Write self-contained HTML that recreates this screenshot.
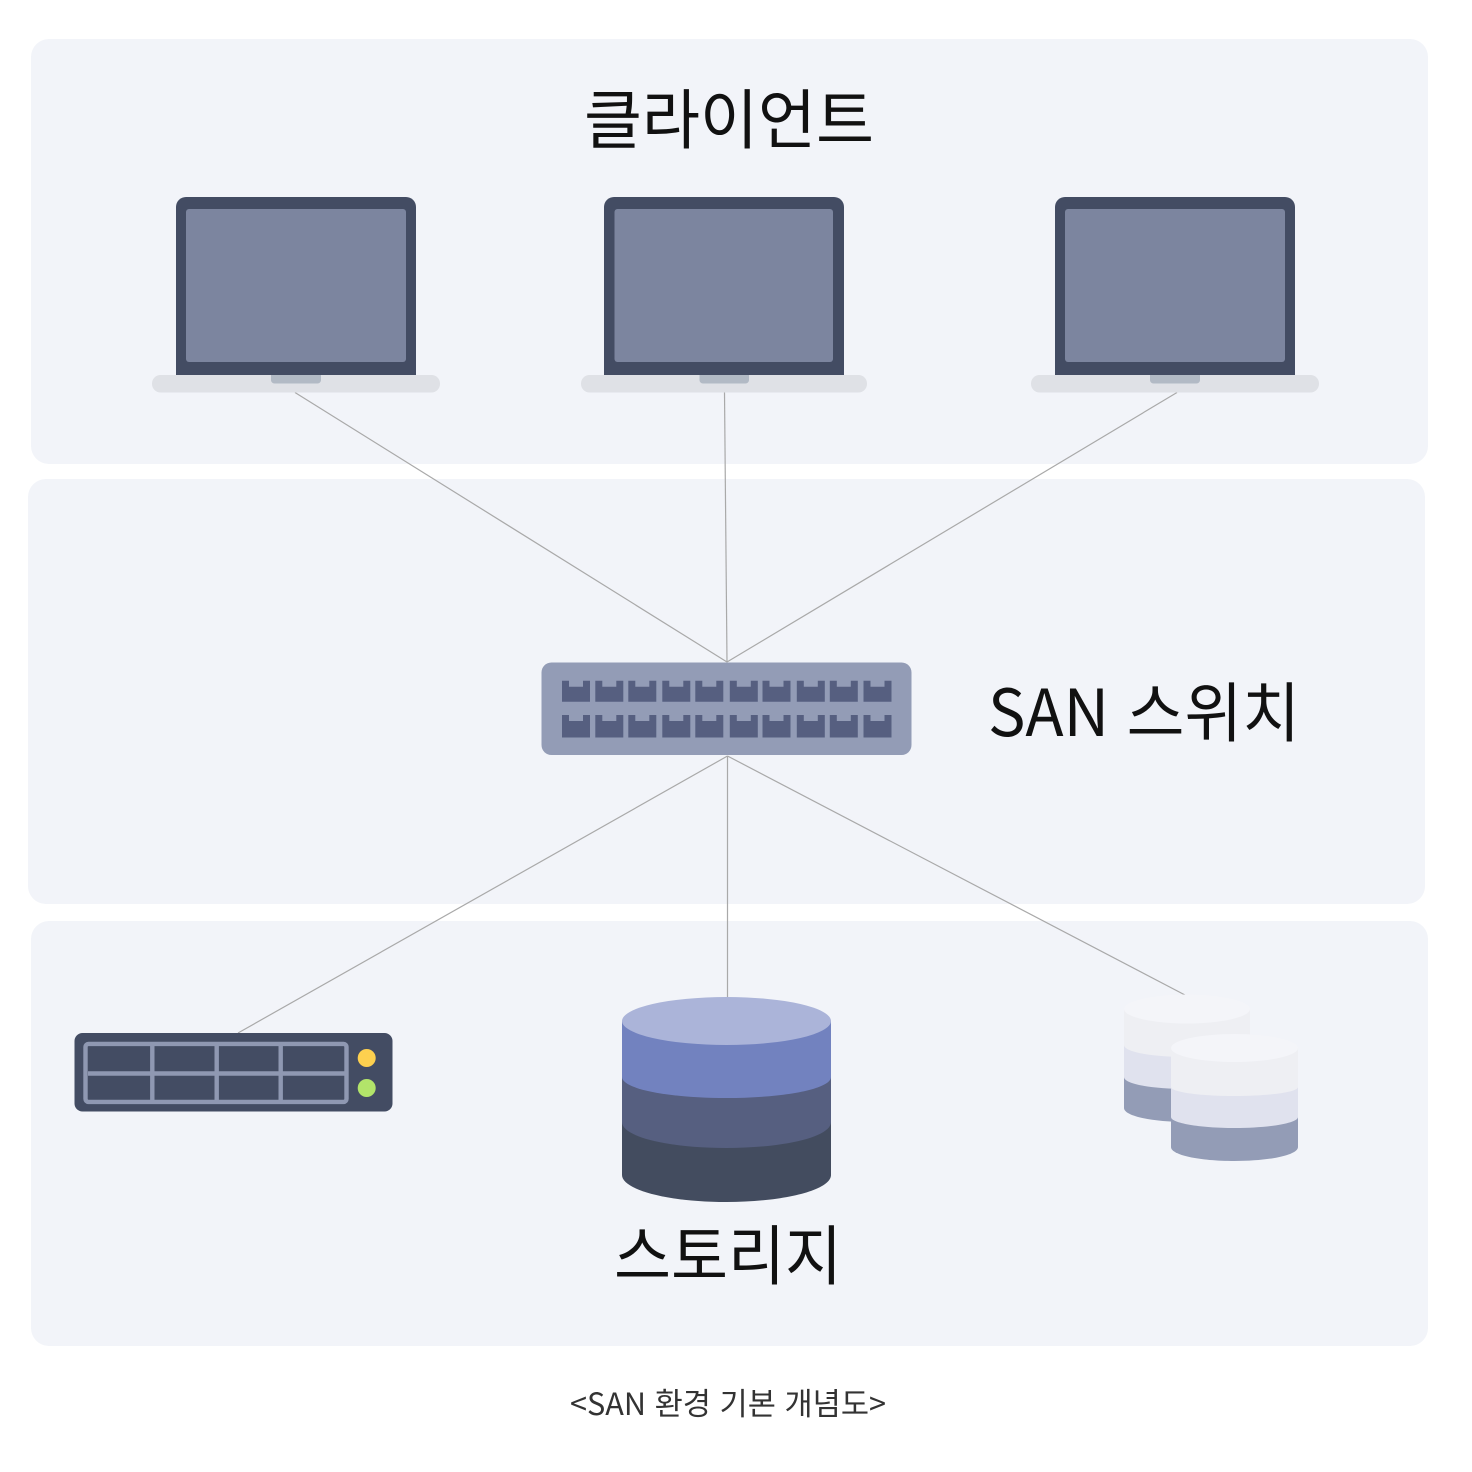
<!DOCTYPE html>
<html lang="ko">
<head>
<meta charset="utf-8">
<title>SAN 환경 기본 개념도</title>
<style>
html,body{margin:0;padding:0;background:#fff;width:1472px;height:1472px;overflow:hidden}
svg{display:block}
text{font-family:"Noto Sans CJK KR","NanumGothic","Liberation Sans",sans-serif;font-weight:400}
</style>
</head>
<body>
<svg width="1472" height="1472" viewBox="0 0 1472 1472" xmlns="http://www.w3.org/2000/svg">
<defs>
  <g id="base">
    <path d="M176 375V207a10 10 0 0 1 10-10H406a10 10 0 0 1 10 10V375Z" fill="#434c63"/>
    <rect x="152" y="375" width="288" height="17.5" rx="8.500" fill="#dfe1e6"/>
    <path d="M271 375H321V380a3.500 3.500 0 0 1-3.500 3.500H274.500a3.500 3.500 0 0 1-3.500-3.500Z" fill="#b2bac5"/>
  </g>
  <path id="p1" d="M0 0H7V6H21V0H28V21H0Z" fill="#565f80"/>
  <path id="p2" d="M0 0H7V6H21V0H28V22.500H0Z" fill="#565f80"/>
</defs>

<rect x="31" y="39" width="1397" height="425" rx="18" fill="#f2f4f9"/>
<rect x="28" y="479" width="1397" height="425" rx="18" fill="#f2f4f9"/>
<rect x="31" y="921" width="1397" height="425" rx="18" fill="#f2f4f9"/>

<g stroke="#a9a9a9" stroke-width="1.200" fill="none">
  <line x1="295" y1="392.500" x2="727" y2="662"/>
  <line x1="724.500" y1="392.500" x2="727" y2="662"/>
  <line x1="1177" y1="392.500" x2="727" y2="662"/>
  <line x1="727.500" y1="756" x2="238" y2="1033"/>
  <line x1="727.500" y1="756" x2="727.500" y2="998"/>
  <line x1="727.500" y1="756" x2="1185" y2="995"/>
</g>

<use href="#base"/>
<rect x="186" y="209" width="220" height="153" rx="3" fill="#7c859f"/>

<path d="M604 375V207a10 10 0 0 1 10-10H834a10 10 0 0 1 10 10V375Z" fill="#434c63"/>
<rect x="614.500" y="209" width="218.500" height="153" rx="3" fill="#7c859f"/>
<rect x="581" y="375" width="286" height="17.500" rx="8.500" fill="#dfe1e6"/>
<path d="M699.500 375H749V380a3.500 3.500 0 0 1-3.500 3.500H703a3.500 3.500 0 0 1-3.500-3.500Z" fill="#b2bac5"/>

<use href="#base" x="879"/>
<rect x="1065" y="209" width="220" height="153" rx="3" fill="#7c859f"/>

<rect x="541.500" y="662.500" width="370" height="92.500" rx="10" fill="#939cb6"/>
<g>
  <use href="#p1" x="562" y="680.700"/><use href="#p1" x="595.300" y="680.700"/><use href="#p1" x="628.300" y="680.700"/><use href="#p1" x="662.300" y="680.700"/><use href="#p1" x="695.300" y="680.700"/><use href="#p1" x="729.800" y="680.700"/><use href="#p1" x="762.500" y="680.700"/><use href="#p1" x="796.800" y="680.700"/><use href="#p1" x="829.800" y="680.700"/><use href="#p1" x="863.500" y="680.700"/>
  <use href="#p2" x="562" y="715"/><use href="#p2" x="595.300" y="715"/><use href="#p2" x="628.300" y="715"/><use href="#p2" x="662.300" y="715"/><use href="#p2" x="695.300" y="715"/><use href="#p2" x="729.800" y="715"/><use href="#p2" x="762.500" y="715"/><use href="#p2" x="796.800" y="715"/><use href="#p2" x="829.800" y="715"/><use href="#p2" x="863.500" y="715"/>
</g>

<rect x="74.500" y="1033" width="318" height="78.500" rx="8" fill="#434c63"/>
<rect x="85.500" y="1043.900" width="261" height="58" rx="3" fill="none" stroke="#8f98b2" stroke-width="4.400"/>
<g stroke="#8f98b2" stroke-width="4.400" fill="none">
  <line x1="152.300" y1="1044" x2="152.300" y2="1102"/>
  <line x1="216.700" y1="1044" x2="216.700" y2="1102"/>
  <line x1="280.700" y1="1044" x2="280.700" y2="1102"/>
  <line x1="88" y1="1073.500" x2="346" y2="1073.500"/>
</g>
<circle cx="366.700" cy="1058" r="9" fill="#fdd04f"/>
<circle cx="366.700" cy="1088" r="9" fill="#b2e46a"/>

<path d="M622 1021V1175C622 1190 669 1202 726.500 1202S831 1190 831 1175V1021Z" fill="#434c5f"/>
<path d="M622 1021V1122C622 1137 669 1148 726.500 1148S831 1137 831 1122V1021Z" fill="#565f80"/>
<path d="M622 1021V1077C622 1089 669 1098 726.500 1098S831 1089 831 1077V1021Z" fill="#7282bf"/>
<ellipse cx="726.500" cy="1021" rx="104.500" ry="24" fill="#abb4d9"/>

<path d="M1124 1009V1108C1124 1116 1152 1122 1187 1122S1250 1116 1250 1108V1009Z" fill="#939cb6"/>
<path d="M1124 1009V1077C1124 1084 1152 1089 1187 1089S1250 1084 1250 1077V1009Z" fill="#e0e2ee"/>
<path d="M1124 1009V1045C1124 1052 1152 1057 1187 1057S1250 1052 1250 1045V1009Z" fill="#eeeff3"/>
<ellipse cx="1187" cy="1009" rx="63" ry="14.500" fill="#f4f5f9"/>

<path d="M1171 1048V1147C1171 1155 1199 1161 1234.500 1161S1298 1155 1298 1147V1048Z" fill="#939cb6"/>
<path d="M1171 1048V1117C1171 1123 1199 1128 1234.500 1128S1298 1123 1298 1117V1048Z" fill="#e0e2ee"/>
<path d="M1171 1048V1087C1171 1092 1199 1096 1234.500 1096S1298 1092 1298 1087V1048Z" fill="#eeeff3"/>
<ellipse cx="1234.500" cy="1048" rx="63.500" ry="14" fill="#f4f5f9"/>

<text x="584" y="143" font-size="65" fill="#111" textLength="290" lengthAdjust="spacingAndGlyphs">클라이언트</text>
<text x="988" y="736" font-size="65" fill="#111" textLength="312" lengthAdjust="spacingAndGlyphs">SAN 스위치</text>
<text x="614" y="1279" font-size="65" fill="#111" textLength="228" lengthAdjust="spacingAndGlyphs">스토리지</text>
<text x="570" y="1415" font-size="31" fill="#333" textLength="316" lengthAdjust="spacingAndGlyphs">&lt;SAN 환경 기본 개념도&gt;</text>
</svg>
</body>
</html>
